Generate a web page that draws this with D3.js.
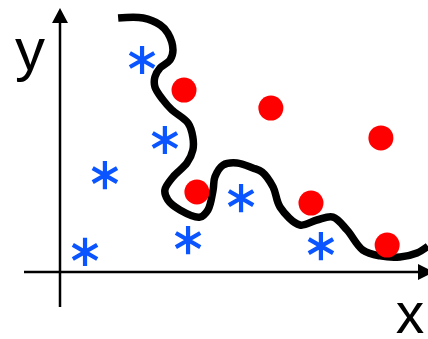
<!DOCTYPE html>
<html>
<head>
<meta charset="utf-8">
<script src="https://cdn.jsdelivr.net/npm/d3@7"></script>
<style>
  body { margin: 0; background: #fff; }
  svg { display: block; }
</style>
</head>
<body>
<svg id="chart"></svg>
<script>
// class A (blue stars)
const starX = [2.23, 2.85, 1.22, 0.68, 3.48, 4.92, 7.09];
const starY = [8.03, 5.00, 3.67, 0.76, 1.21, 2.80, 0.98];
// class B (red dots)
const dotX = [3.37, 5.73, 8.72, 3.72, 6.82, 8.89];
const dotY = [6.89, 6.21, 5.08, 3.03, 2.61, 1.02];
// decision boundary
const boundX = [1.58, 2.26, 2.72, 2.93, 3.07, 2.99, 2.72, 2.58, 2.58, 2.80, 3.04, 3.48, 3.61, 3.61, 3.45, 3.07, 2.85, 2.93, 3.26, 3.80, 4.02, 4.16, 4.21, 4.43, 4.81, 5.24, 5.49, 5.79, 5.98, 6.52, 6.98, 7.42, 7.80, 8.23, 8.70, 9.24, 9.70, 10.0];
const boundY = [9.62, 9.62, 9.36, 9.05, 8.41, 8.03, 7.73, 7.39, 7.01, 6.52, 6.14, 5.64, 5.11, 4.62, 4.13, 3.60, 3.11, 2.73, 2.35, 2.08, 2.35, 3.11, 3.60, 4.05, 4.13, 3.94, 3.79, 3.22, 2.46, 1.78, 1.97, 2.08, 1.59, 0.83, 0.61, 0.57, 0.72, 0.98];
const axisLabels = ["x", "y"];

let width = 428, height = 339;
let svg = d3.select("#chart").attr("width", width).attr("height", height);

let x = d3.scaleLinear().domain([0, 10]).range([60, 428]);
let y = d3.scaleLinear().domain([0, 10]).range([272, 8]);

// axes with arrow heads
let ax = svg.append("g");
ax.append("line")
  .attr("x1", 24).attr("x2", 420)
  .attr("y1", y(0)).attr("y2", y(0))
  .attr("stroke", "#000").attr("stroke-width", 2.5);
ax.append("line")
  .attr("x1", x(0)).attr("x2", x(0))
  .attr("y1", 307).attr("y2", 20)
  .attr("stroke", "#000").attr("stroke-width", 2.5);
ax.append("path")
  .attr("d", `M${x(0)},${y(10)} L${x(0) - 8},${y(10) + 15} L${x(0) + 8},${y(10) + 15} Z`)
  .attr("fill", "#000");
ax.append("path")
  .attr("d", `M434,${y(0)} L418,${y(0) - 8} L418,${y(0) + 8} Z`)
  .attr("fill", "#000");

ax.append("text")
  .attr("x", 410).attr("y", 333)
  .attr("text-anchor", "middle")
  .style("font-family", "'Liberation Sans', Arial, sans-serif")
  .style("font-size", "57px")
  .text(axisLabels[0]);
ax.append("text")
  .attr("x", 30).attr("y", 70)
  .attr("text-anchor", "middle")
  .style("font-family", "'Liberation Sans', Arial, sans-serif")
  .style("font-size", "60px")
  .text(axisLabels[1]);

// boundary curve
let line = d3.line()
  .x(d => x(d[0]))
  .y(d => y(d[1]))
  .curve(d3.curveCatmullRom.alpha(0.5));

svg.append("path")
  .datum(d3.zip(boundX, boundY))
  .attr("d", line)
  .attr("fill", "none")
  .attr("stroke", "#000")
  .attr("stroke-width", 7.5);

// red dots
svg.selectAll(".dot")
  .data(d3.zip(dotX, dotY))
  .enter().append("circle")
  .attr("class", "dot")
  .attr("cx", d => x(d[0]))
  .attr("cy", d => y(d[1]))
  .attr("r", 12.5)
  .attr("fill", "#ff0000");

// blue stars
let star = d3.symbol().type(d3.symbolAsterisk).size(560);
svg.selectAll(".star")
  .data(d3.zip(starX, starY))
  .enter().append("path")
  .attr("class", "star")
  .attr("transform", d => "translate(" + x(d[0]) + "," + y(d[1]) + ")")
  .attr("d", star)
  .attr("fill", "none")
  .attr("stroke", "#0a55ff")
  .attr("stroke-width", 4.2);
</script>
</body>
</html>
